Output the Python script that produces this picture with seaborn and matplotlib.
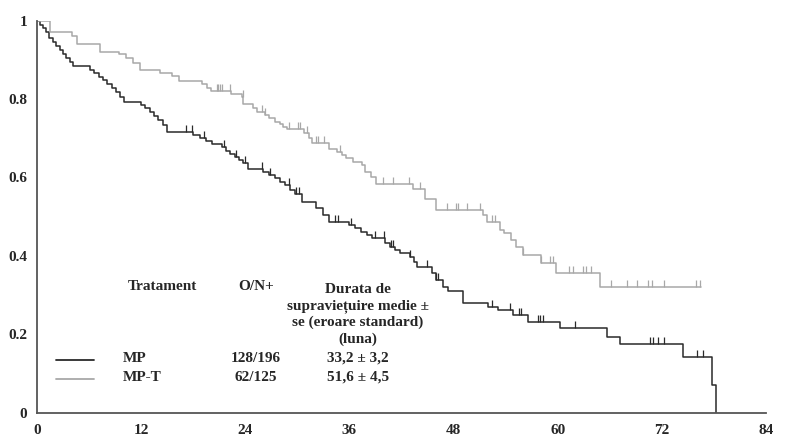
import numpy as np
import matplotlib
matplotlib.use('Agg')
import matplotlib.pyplot as plt
from matplotlib.ticker import MultipleLocator
import seaborn as sns

# Kaplan-Meier steps (months, survival).

mp_time = [0, 0.3, 0.7, 1.0, 1.4, 1.8, 2.2, 2.6, 3.0, 3.4, 3.8, 4.2, 6.1, 6.6, 7.1,
           7.6, 8.1, 8.6, 9.1, 9.6, 10.0, 12.0, 12.5, 13.0, 13.5, 14.0, 14.5, 15.0,
           18.0, 18.8, 19.5, 20.2, 21.3, 21.8, 22.3, 22.8, 23.3, 23.8, 24.3, 26.0,
           26.7, 27.4, 28.0, 28.6, 29.2, 29.7, 30.5, 32.2, 33.0, 33.7, 35.9, 36.6,
           37.3, 38.0, 38.6, 40.1, 40.7, 41.3, 41.8, 43.0, 43.5, 43.8, 45.5, 46.0,
           46.8, 47.4, 49.1, 52.0, 53.1, 54.9, 56.6, 60.3, 65.7, 67.2, 74.4, 77.8, 78.3]
mp_surv = [1.0, 0.99, 0.98, 0.97, 0.955, 0.945, 0.935, 0.925, 0.915, 0.905, 0.895,
           0.884, 0.875, 0.866, 0.857, 0.848, 0.838, 0.828, 0.818, 0.806, 0.793,
           0.785, 0.776, 0.767, 0.757, 0.746, 0.735, 0.715, 0.708, 0.700, 0.692,
           0.685, 0.677, 0.668, 0.660, 0.652, 0.644, 0.636, 0.622, 0.614, 0.606,
           0.598, 0.589, 0.580, 0.568, 0.558, 0.538, 0.521, 0.504, 0.487, 0.478,
           0.470, 0.462, 0.453, 0.445, 0.434, 0.423, 0.415, 0.407, 0.398, 0.385,
           0.372, 0.356, 0.339, 0.321, 0.311, 0.281, 0.269, 0.262, 0.249, 0.232,
           0.215, 0.194, 0.175, 0.141, 0.07, 0.0]
mp_cens = [17.2, 17.9, 19.3, 21.6, 22.9, 24.0, 25.9, 26.8, 29.0, 29.9, 30.2, 34.3,
           34.7, 36.2, 38.9, 40.0, 40.8, 41.0, 43.0, 44.9, 46.0, 46.2, 52.4, 54.5,
           55.5, 55.8, 57.7, 58.0, 58.3, 62.0, 70.6, 71.0, 71.6, 72.2, 76.1, 76.8]

mpt_time = [0, 1.5, 4.0, 4.6, 7.3, 9.4, 10.3, 11.1, 11.9, 14.2, 15.6, 16.4, 19.0,
            19.6, 20.0, 22.4, 23.6, 23.8, 24.9, 25.3, 26.3, 26.7, 27.4, 28.0, 28.4,
            28.8, 30.8, 31.3, 31.7, 33.7, 34.6, 35.1, 35.6, 36.4, 37.4, 37.8, 38.5,
            39.1, 43.3, 44.7, 46.0, 51.4, 51.8, 53.4, 53.8, 54.6, 55.2, 56.0, 58.1,
            59.8, 64.9, 76.5]
mpt_surv = [1.0, 0.970, 0.962, 0.940, 0.921, 0.915, 0.904, 0.891, 0.874, 0.867,
            0.858, 0.846, 0.838, 0.828, 0.820, 0.812, 0.806, 0.787, 0.776, 0.768,
            0.759, 0.751, 0.742, 0.736, 0.730, 0.724, 0.713, 0.700, 0.689, 0.672,
            0.666, 0.657, 0.649, 0.640, 0.632, 0.615, 0.602, 0.583, 0.570, 0.544,
            0.518, 0.504, 0.487, 0.466, 0.458, 0.440, 0.423, 0.402, 0.381, 0.357,
            0.320, 0.320]
mpt_cens = [20.7, 20.9, 21.1, 21.3, 22.2, 23.7, 25.9, 26.3, 29.0, 30.1, 30.3, 31.1,
            32.2, 32.4, 33.1, 34.9, 39.9, 41.0, 42.9, 44.1, 47.2, 48.3, 48.5, 49.5,
            51.1, 52.4, 52.8, 56.0, 58.1, 59.1, 59.5, 61.3, 61.8, 62.9, 63.3, 63.8,
            66.2, 68.0, 69.1, 70.4, 70.9, 72.2, 75.9, 76.4]

groups = ['MP', 'MP-T']
events = ['128/196', '62/125']
median_surv = ['33,2 \u00b1 3,2', '51,6 \u00b1 4,5']
colors = ['#2a2a2a', '#a8a8a8']

y_ticks = [0, 0.2, 0.4, 0.6, 0.8, 1.0]
y_labels = ['0', '0.2', '0.4', '0.6', '0.8', '1']
x_ticks = [0, 12, 24, 36, 48, 60, 72, 84]


def surv_at(times, surv, t):
    idx = np.searchsorted(times, t, side='right') - 1
    return np.array(surv)[idx]


sns.set_style('white')
plt.rcParams['font.family'] = ['Liberation Serif', 'DejaVu Serif']
plt.rcParams['font.weight'] = 'bold'

fig = plt.figure(figsize=(7.86, 4.45), dpi=100)
ax = fig.add_axes([0.047, 0.0726, 0.9275, 0.881])

curves = [(mp_time, mp_surv, mp_cens), (mpt_time, mpt_surv, mpt_cens)]
for (t, s, c), col in zip(curves, colors):
    sns.lineplot(x=t, y=s, ax=ax, drawstyle='steps-post', color=col, lw=1.1,
                 estimator=None, sort=False)
    sns.scatterplot(x=c, y=surv_at(t, s, c), ax=ax, marker=2, s=28,
                    color=col, linewidth=0.9)

ax.set_xlim(0, 84)
ax.set_ylim(0, 1)
ax.set_xticks(x_ticks, [str(v) for v in x_ticks])
ax.set_yticks(y_ticks, y_labels)
ax.xaxis.set_minor_locator(MultipleLocator(6))
ax.yaxis.set_minor_locator(MultipleLocator(0.1))
sns.despine(ax=ax)
for sp in ['left', 'bottom']:
    ax.spines[sp].set_color('#555555')
    ax.spines[sp].set_linewidth(1.3)
ax.tick_params(axis='x', which='major', direction='inout', length=7, width=1,
               color='#555555', labelsize=11, pad=5)
ax.tick_params(axis='y', which='major', direction='out', length=4, width=1,
               color='#555555', labelsize=11, pad=3)
ax.tick_params(which='minor', direction='in', length=3, width=1, color='#555555')
for lab in ax.get_xticklabels() + ax.get_yticklabels():
    lab.set_fontweight('bold')

# Table-like legend inside the plot.
fs = 11
ax.text(14.5, 0.321, 'Tratament', ha='center', va='center', fontsize=fs, fontweight='bold')
ax.text(25.2, 0.321, 'O/N+', ha='center', va='center', fontsize=fs, fontweight='bold')
ax.text(37.0, 0.2505, 'Durata de\nsupraviețuire medie \u00b1\nse (eroare standard)\n(luna)',
        ha='center', va='center', fontsize=fs, fontweight='bold', linespacing=1.3)
for i, (g, e, m, col) in enumerate(zip(groups, events, median_surv, colors)):
    y = 0.139 - i * 0.048
    ax.plot([2.2, 6.6], [y - 0.004, y - 0.004], color=col, lw=1.3)
    ax.text(9.9, y, g, ha='left', va='center', fontsize=fs, fontweight='bold')
    ax.text(25.2, y, e, ha='center', va='center', fontsize=fs, fontweight='bold')
    ax.text(37.0, y, m, ha='center', va='center', fontsize=fs, fontweight='bold')

fig.savefig('out.png', dpi=100)
